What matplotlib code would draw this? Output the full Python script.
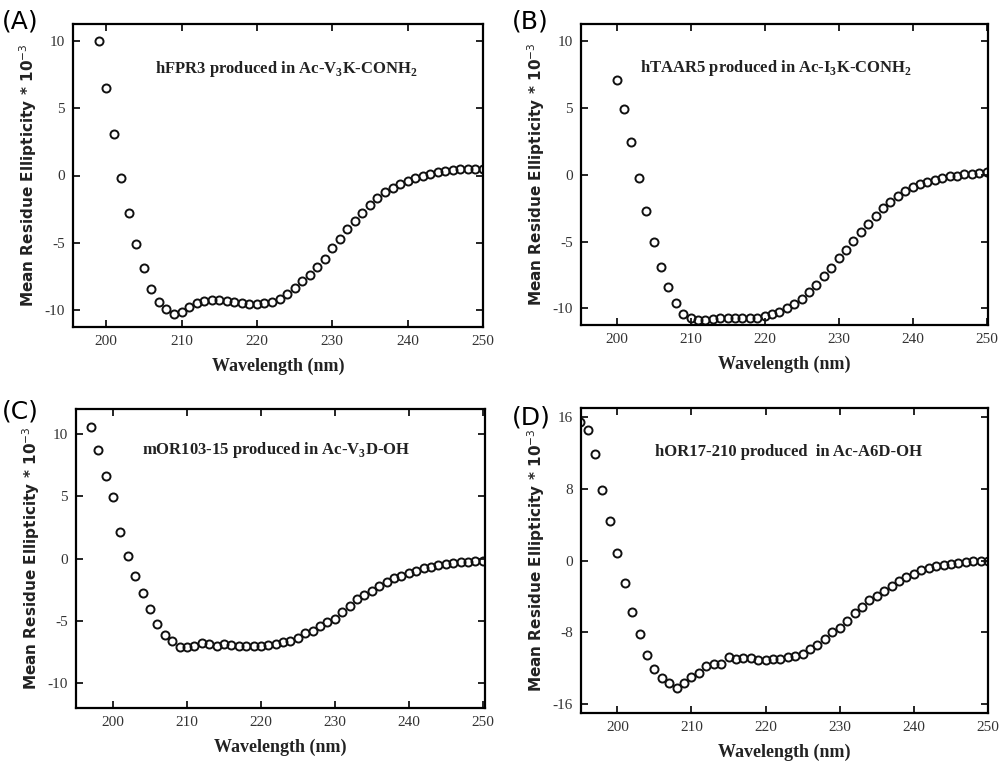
import matplotlib
matplotlib.use("Agg")
import matplotlib.pyplot as plt
import numpy as np

# -----------------------------
# Data (x 10^-3)
# -----------------------------
wl_a = list(range(199, 251))
mre_a = [10.0, 6.55, 3.1, -0.2, -2.8, -5.1, -6.9, -8.45, -9.45, -9.95,
         -10.3, -10.15, -9.8, -9.5, -9.35, -9.3, -9.3, -9.35, -9.45, -9.5,
         -9.55, -9.55, -9.5, -9.4, -9.2, -8.85, -8.4, -7.9, -7.4, -6.8,
         -6.2, -5.4, -4.75, -4.0, -3.4, -2.8, -2.2, -1.7, -1.26, -0.9,
         -0.63, -0.38, -0.2, 0.0, 0.13, 0.25, 0.33, 0.4, 0.45, 0.45,
         0.45, 0.45]

wl_b = list(range(200, 251))
mre_b = [7.1, 4.95, 2.45, -0.2, -2.7, -5.0, -6.9, -8.4, -9.6, -10.4,
         -10.75, -10.9, -10.85, -10.8, -10.75, -10.75, -10.75, -10.75, -10.75, -10.7,
         -10.6, -10.4, -10.25, -10.0, -9.7, -9.3, -8.8, -8.25, -7.6, -6.95,
         -6.25, -5.6, -4.95, -4.3, -3.7, -3.1, -2.5, -2.0, -1.6, -1.2,
         -0.9, -0.7, -0.5, -0.38, -0.25, -0.12, -0.05, 0.03, 0.08, 0.12,
         0.18]

wl_c = list(range(197, 251))
mre_c = [10.55, 8.7, 6.6, 4.9, 2.1, 0.24, -1.4, -2.8, -4.07, -5.27,
         -6.14, -6.6, -7.07, -7.07, -7.0, -6.8, -6.86, -7.0, -6.9, -6.94,
         -7.0, -7.0, -7.0, -7.0, -6.94, -6.86, -6.73, -6.6, -6.4, -6.0,
         -5.8, -5.45, -5.13, -4.87, -4.33, -3.8, -3.27, -2.95, -2.6, -2.2,
         -1.9, -1.6, -1.4, -1.2, -1.0, -0.8, -0.66, -0.53, -0.42, -0.35,
         -0.3, -0.27, -0.24, -0.2]

wl_d = list(range(195, 251))
mre_d = [15.4, 14.55, 11.85, 7.85, 4.37, 0.8, -2.5, -5.75, -8.15, -10.5,
         -12.15, -13.15, -13.7, -14.2, -13.7, -13.0, -12.5, -11.75, -11.5, -11.5,
         -10.75, -11.0, -10.85, -10.9, -11.1, -11.1, -11.0, -11.0, -10.75, -10.6,
         -10.4, -9.9, -9.4, -8.8, -8.0, -7.5, -6.7, -5.9, -5.2, -4.4,
         -4.0, -3.4, -2.85, -2.3, -1.85, -1.5, -1.1, -0.8, -0.6, -0.5,
         -0.37, -0.26, -0.2, -0.1, -0.1, -0.1]

titles = [r"hFPR3 produced in Ac-V$_\mathbf{3}$K-CONH$_\mathbf{2}$",
          r"hTAAR5 produced in Ac-I$_\mathbf{3}$K-CONH$_\mathbf{2}$",
          r"mOR103-15 produced in Ac-V$_\mathbf{3}$D-OH",
          "hOR17-210 produced  in Ac-A6D-OH"]
panel_labels = ["(A)", "(B)", "(C)", "(D)"]
yticks = [[-10, -5, 0, 5, 10], [-10, -5, 0, 5, 10],
          [-10, -5, 0, 5, 10], [-16, -8, 0, 8, 16]]
ylims = [(-11.3, 11.3), (-11.25, 11.3), (-12, 12), (-17, 17)]
xlims = [(195.6, 250), (195.2, 250.2), (195, 250.3), (195.1, 250)]

# -----------------------------
# Layout (pixel boxes of each axes: left, top, right, bottom)
# -----------------------------
W, H = 1003, 761
boxes = [(73, 24, 483, 327), (581, 24, 988, 325),
         (76, 409, 485, 708), (581, 408, 988, 713)]
title_pos = [(0.52, 0.85), (0.48, 0.855), (0.49, 0.863), (0.51, 0.856)]
label_pos = [(2, 22), (512, 22), (2, 412), (512, 417)]

plt.rcParams["mathtext.fontset"] = "custom"
plt.rcParams["mathtext.rm"] = "Liberation Serif:bold"
plt.rcParams["mathtext.bf"] = "Liberation Serif:bold"
plt.rcParams["axes.unicode_minus"] = False

fig = plt.figure(figsize=(W / 100, H / 100), dpi=100)

data = [(wl_a, mre_a), (wl_b, mre_b), (wl_c, mre_c), (wl_d, mre_d)]
for i, (wl, mre) in enumerate(data):
    l, t, r, b = boxes[i]
    ax = fig.add_axes([l / W, 1 - b / H, (r - l) / W, (b - t) / H])
    ax.plot(wl, mre, "o", mfc="none", mec="#111111", mew=1.4, ms=5.8,
            linestyle="none")
    ax.set_xlim(*xlims[i])
    ax.set_ylim(*ylims[i])
    ax.set_xticks([200, 210, 220, 230, 240, 250])
    ax.set_yticks(yticks[i])
    ax.tick_params(direction="in", top=True, right=True, length=5, width=1.2,
                   labelsize=11, labelcolor="#333333", pad=6)
    for lab in ax.get_xticklabels() + ax.get_yticklabels():
        lab.set_family("Liberation Serif")
    for sp in ax.spines.values():
        sp.set_linewidth(1.6)
    ax.set_xlabel("Wavelength (nm)", family="Liberation Serif",
                  fontweight="bold", fontsize=13, labelpad=7, color="#222222")
    ax.set_ylabel(r"Mean Residue Ellipticity * 10$^{\mathsf{-3}}$",
                  family="DejaVu Sans", fontweight="bold", fontsize=11,
                  labelpad=4, color="#222222")
    ax.text(title_pos[i][0], title_pos[i][1], titles[i], transform=ax.transAxes,
            ha="center", va="center", family="Liberation Serif",
            fontweight="bold", fontsize=12, color="#222222")
    fig.text(label_pos[i][0] / W, 1 - label_pos[i][1] / H, panel_labels[i],
             ha="left", va="center", fontsize=18, family="DejaVu Sans")

fig.savefig("out.png", dpi=100)
